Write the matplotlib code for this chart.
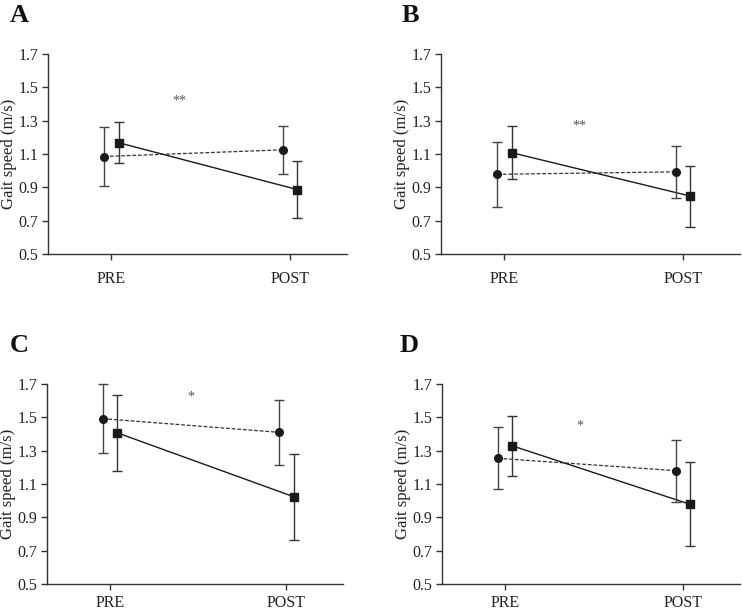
import numpy as np
from matplotlib import pyplot as plt

plt.rcParams['font.family'] = ['Liberation Serif', 'DejaVu Serif']

# values (mean and SD, PRE then POST)
panels = ['A', 'B', 'C', 'D']
times = ['PRE', 'POST']
circle_mean = [[1.085, 1.125], [0.978, 0.993], [1.492, 1.410], [1.254, 1.180]]
circle_sd = [[0.175, 0.145], [0.193, 0.157], [0.207, 0.193], [0.186, 0.186]]
square_mean = [[1.168, 0.887], [1.108, 0.848], [1.408, 1.024], [1.329, 0.978]]
square_sd = [[0.124, 0.170], [0.158, 0.183], [0.227, 0.257], [0.178, 0.252]]
sig_marks = ['**', '**', '*', '*']
sig_x = [1.38, 1.42, 1.46, 1.42]
sig_y = [1.42, 1.27, 1.62, 1.45]
yticks = [0.5, 0.7, 0.9, 1.1, 1.3, 1.5, 1.7]

W, H = 742, 614
# axes boxes in pixels: left, top, right, bottom
boxes = [(48, 54, 347, 254), (441, 54, 740, 254),
         (47, 384, 343, 584), (442, 384, 740, 584)]
letter_pos = [(10, 22), (402, 22), (10, 352), (400, 352)]
xpads = [8, 8, 4, 4]

fig = plt.figure(figsize=(W / 100, H / 100), dpi=100)

x = np.array([1, 2])
off = 0.04
for i, p in enumerate(panels):
    l, t, r, b = boxes[i]
    ax = fig.add_axes([l / W, 1 - b / H, (r - l) / W, (b - t) / H])

    # dashed group (circles)
    ax.plot(x - off, circle_mean[i], ls='--', color='#333333', lw=0.9, dashes=(3, 1.5), zorder=2)
    ax.errorbar(x - off, circle_mean[i], yerr=circle_sd[i], fmt='o', color='#1a1a1a',
                ms=5.5, ecolor='#444444', elinewidth=1.0, capsize=3.5, capthick=1.0,
                clip_on=False, zorder=3)
    # solid group (squares)
    ax.plot(x + off, square_mean[i], ls='-', color='#1a1a1a', lw=1.0, zorder=2)
    ax.errorbar(x + off, square_mean[i], yerr=square_sd[i], fmt='s', color='#1a1a1a',
                ms=5.5, ecolor='#333333', elinewidth=1.0, capsize=3.5, capthick=1.0,
                clip_on=False, zorder=3)

    ax.text(sig_x[i], sig_y[i], sig_marks[i], ha='center', va='center',
            fontsize=10, color='#555555')

    ax.set_xlim(0.645, 2.32)
    ax.set_ylim(0.5, 1.7)
    ax.set_yticks(yticks)
    ax.set_yticklabels(['%.1f' % v for v in yticks])
    ax.set_xticks(x)
    ax.set_xticklabels(times)
    ax.spines['top'].set_visible(False)
    ax.spines['right'].set_visible(False)
    for s in ['left', 'bottom']:
        ax.spines[s].set_color('#333333')
        ax.spines[s].set_linewidth(1.0)
    ax.tick_params(axis='y', direction='out', length=4, width=1.0, pad=3,
                   labelsize=11.5, colors='#333333', labelcolor='#222222')
    ax.tick_params(axis='x', direction='out', length=4, width=1.0, pad=xpads[i],
                   labelsize=11.5, colors='#333333', labelcolor='#222222')
    ax.set_ylabel('Gait speed (m/s)', fontsize=12, color='#222222')
    ax.yaxis.set_label_coords(-0.104, 0.5)

    lx, ly = letter_pos[i]
    fig.text(lx / W, 1 - ly / H, p, fontsize=19, fontweight='bold',
             ha='left', va='baseline', color='#111111')

plt.savefig('out.png', dpi=100)
